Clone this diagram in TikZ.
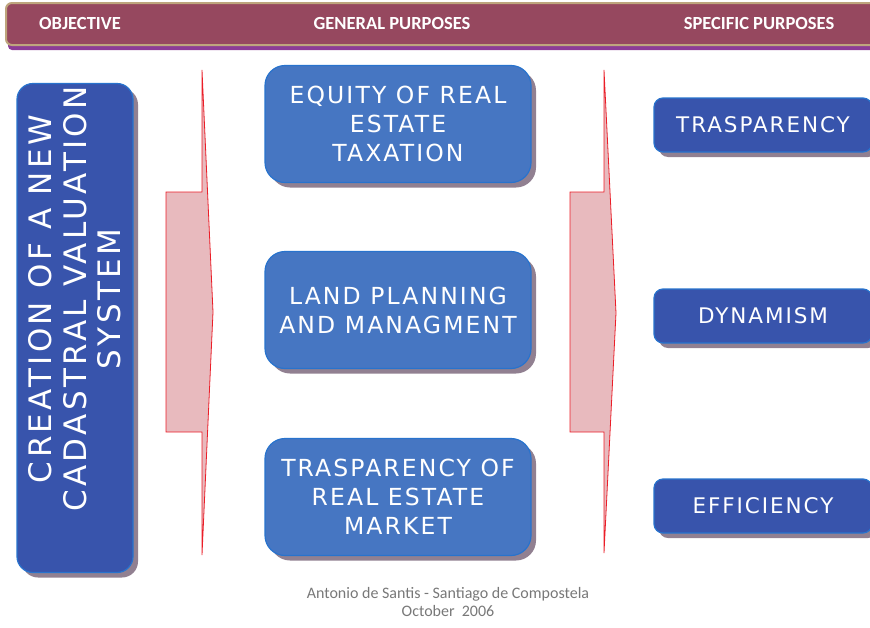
\documentclass[tikz,border=0pt]{standalone}
\usepackage{fontspec}
\setmainfont{DejaVu Sans}
\newfontfamily\headfont{Carlito}
\newfontfamily\objfont[LetterSpace=11]{DejaVu Sans}
\newfontfamily\genfont[LetterSpace=9]{DejaVu Sans}
\newfontfamily\specfont[LetterSpace=9]{DejaVu Sans}
\definecolor{hdrmaroon}{RGB}{150, 72, 95}
\definecolor{hdrtan}{RGB}{190, 165, 125}
\definecolor{hdrpurple}{RGB}{140, 60, 150}
\definecolor{objblue}{RGB}{56, 84, 172}
\definecolor{midblue}{RGB}{70, 118, 194}
\definecolor{boxedge}{RGB}{40, 115, 205}
\definecolor{shademauve}{RGB}{145, 128, 145}
\definecolor{arrowred}{RGB}{235, 30, 40}
\definecolor{arrowpink}{RGB}{232, 186, 190}
\definecolor{footgrey}{RGB}{120, 120, 120}
\usetikzlibrary{shapes, positioning, shadows}

\begin{document}
\begin{tikzpicture}[x=1pt, y=-1pt,
  boxshade/.style={drop shadow={shadow xshift=5pt, shadow yshift=-5pt, fill=shademauve, opacity=1}},
  objbox/.style={draw=boxedge, line width=1.2pt, fill=objblue, rounded corners=16pt, minimum width=116pt, minimum height=489pt, boxshade},
  genbox/.style={draw=boxedge, line width=1.2pt, fill=midblue, rounded corners=20pt, minimum width=266pt, minimum height=117pt, text=white, align=center, font=\genfont\fontsize{23.5}{29}\selectfont, boxshade},
  specbox/.style={draw=boxedge, line width=1.2pt, fill=objblue, rounded corners=9pt, minimum width=218pt, minimum height=54pt, text=white, font=\specfont\fontsize{21.5}{25}\selectfont, boxshade},
  headtext/.style={font=\headfont\bfseries\fontsize{18.5}{20}\selectfont, text=white},
  arrowline/.style={draw=arrowred, line width=0.8pt, fill=arrowpink}]
  \useasboundingbox (0,0) rectangle (870,627);
  \clip (0,0) rectangle (870,627);

  % Header bar
  \fill[hdrpurple, rounded corners=4pt] (8,40) rectangle (880,50);
  \filldraw[draw=hdrtan, line width=2pt, fill=hdrmaroon, rounded corners=6pt] (6,3) rectangle (880,45);
  \node[headtext] (hobj) at (80,23) {OBJECTIVE};
  \node[headtext] (hgen) at (392,23) {GENERAL PURPOSES};
  \node[headtext] (hspec) at (759,23) {SPECIFIC PURPOSES};

  % Objective
  \node[objbox] (objective) at (75,328) {};
  \node[rotate=90, text=white, align=center, font=\objfont\fontsize{31}{34.5}\selectfont] (objtext) at (75,299) {CREATION OF A NEW\\CADASTRAL VALUATION\\SYSTEM};

  % Arrows
  \filldraw[arrowline] (166,192) -- (202,192) -- (202,70) -- (213,312) -- (202,555) -- (202,432) -- (166,432) -- cycle;
  \filldraw[arrowline] (570,192) -- (604,192) -- (604,70) -- (616,313) -- (604,553) -- (604,432) -- (570,432) -- cycle;

  % General purposes
  \node[genbox] (equity) at (398,124) {EQUITY OF REAL\\ESTATE\\TAXATION};
  \node[genbox] (planning) at (398,310) {LAND PLANNING\\AND MANAGMENT};
  \node[genbox] (market) at (398,497) {TRASPARENCY OF\\REAL ESTATE\\MARKET};

  % Specific purposes
  \node[specbox] (trasp) at (763,125) {TRASPARENCY};
  \node[specbox] (dynam) at (763,316) {DYNAMISM};
  \node[specbox] (effic) at (763,506) {EFFICIENCY};

  % Footer
  \node[font=\headfont\fontsize{16}{17.5}\selectfont, text=footgrey, align=center] (footer) at (448,602) {Antonio de Santis - Santiago de Compostela\\October\ \ 2006};
\end{tikzpicture}
\end{document}
